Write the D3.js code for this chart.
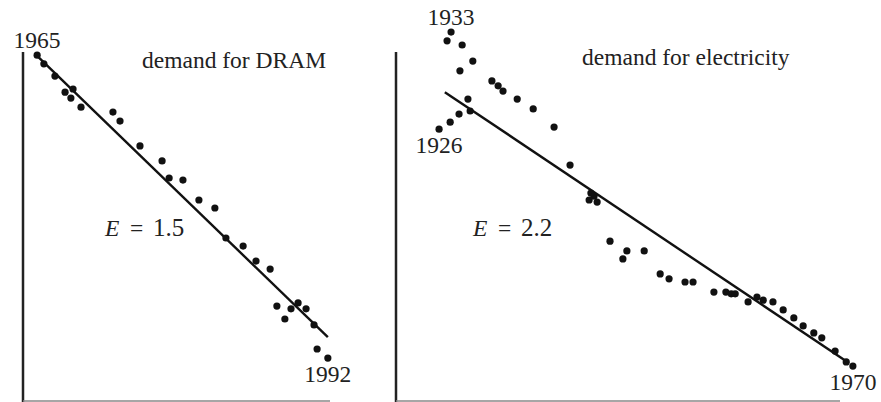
<!DOCTYPE html>
<html>
<head>
<meta charset="utf-8">
<script src="https://cdn.jsdelivr.net/npm/d3@7"></script>
<style>
  body { margin: 0; background: #fff; }
</style>
</head>
<body>
<div id="chart"></div>
<script>

// log quantity (x) and log price (y), both in relative units 0..100
const dramX = [4.6, 6.8, 10.4, 13.7, 16.3, 15.6, 18.9, 29.3, 31.6, 38.1, 45.3, 47.6, 52.1, 57.3,
    62.5, 66.1, 71.7, 75.9, 80.5, 82.7, 85.3, 87.3, 89.6, 92.2, 94.8, 95.8, 99.3];
const dramY = [99.1, 96.6, 93.1, 88.5, 89.4, 86.8, 84.2, 82.8, 80.2, 73.1, 68.8, 63.9, 63.3, 57.6,
    55.3, 46.7, 44.4, 40.1, 37.8, 27.2, 23.5, 26.4, 28.1, 26.4, 21.8, 14.9, 12.3];
const dramFitX = [4.6, 99.3];
const dramFitY = [98.9, 18.3];
const dramYears = ["1965", "1992"];
const dramTitle = "demand for DRAM";
const dramE = "1.5";

const elecX = [9.7, 12.2, 14.2, 16.7, 16.2, 17.3, 14.4, 12.4, 11.5, 14.9, 21.6, 23.0, 24.1, 27.3, 30.9,
    35.6, 39.2, 43.9, 44.6, 43.5, 45.3, 48.2, 51.1, 52.0, 55.9, 59.5, 61.5, 65.1, 66.9, 71.6,
    74.3, 75.5, 76.4, 79.3, 81.3, 82.7, 84.9, 87.2, 89.6, 91.7, 94.1, 95.9, 98.9, 101.4, 102.9];
const elecY = [77.9, 79.9, 82.2, 83.1, 86.5, 97.4, 94.6, 105.7, 103.2, 102.0, 91.7, 90.3, 88.8, 86.5, 83.7,
    78.5, 67.6, 59.6, 58.7, 57.6, 57.0, 45.8, 40.7, 43.0, 43.0, 36.4, 35.0, 34.1, 34.1, 31.2,
    31.2, 30.7, 30.7, 28.4, 29.8, 28.9, 28.4, 26.1, 23.8, 21.5, 19.5, 18.1, 14.3, 11.2, 10.0];
const elecFitX = [11.0, 102.0];
const elecFitY = [88.5, 10.9];
const elecYears = ["1926", "1933", "1970"];
const elecLabelIdx = [0, 7, 44];
const elecTitle = "demand for electricity";
const elecE = "2.2";

const width = 881, height = 402;
const serif = "'Liberation Serif', 'DejaVu Serif', serif";

const svg = d3.select("#chart").append("svg")
    .attr("width", width)
    .attr("height", height)
    .attr("font-family", serif);

function drawPanel(opts) {

    let x = d3.scaleLinear().domain([0, 100]).range(opts.xRange);
    let y = d3.scaleLinear().domain([0, 100]).range([401, 52]);

    let g = svg.append("g");

    // frame: vertical line and a faint baseline
    g.append("line")
        .attr("x1", x(0)).attr("x2", x(0))
        .attr("y1", y(100)).attr("y2", height)
        .attr("stroke", "#222")
        .attr("stroke-width", 2.5);
    g.append("line")
        .attr("x1", x(0)).attr("x2", x(100))
        .attr("y1", y(0)).attr("y2", y(0))
        .attr("stroke", "#888")
        .attr("stroke-width", 1.5);

    // fitted line
    g.append("line")
        .attr("x1", x(opts.fitX[0])).attr("y1", y(opts.fitY[0]))
        .attr("x2", x(opts.fitX[1])).attr("y2", y(opts.fitY[1]))
        .attr("stroke", "#111")
        .attr("stroke-width", 2.4);

    // points
    g.selectAll("circle")
        .data(opts.xs)
        .enter()
        .append("circle")
        .attr("cx", d => x(d))
        .attr("cy", (d, i) => y(opts.ys[i]))
        .attr("r", 3.6)
        .attr("fill", "#111");

    // year labels, centred above or below their point
    opts.labels.forEach((lab, k) => {
        let i = opts.labelIdx[k];
        let above = opts.labelAbove[k];
        g.append("text")
            .attr("x", x(opts.xs[i]))
            .attr("y", y(opts.ys[i]) + (above ? -7 : 24))
            .attr("text-anchor", "middle")
            .attr("fill", "#222")
            .style("font-size", "23.5px")
            .text(lab);
    });

    g.append("text")
        .attr("x", opts.titlePos[0])
        .attr("y", opts.titlePos[1])
        .attr("fill", "#222")
        .style("font-size", "23.5px")
        .text(opts.title);

    // elasticity
    let e = g.append("text")
        .attr("y", 236)
        .attr("fill", "#222")
        .style("font-size", "23.5px");
    e.append("tspan").attr("x", opts.ePos).style("font-style", "italic").text("E");
    e.append("tspan").attr("x", opts.ePos + 25).text("=");
    e.append("tspan").attr("x", opts.ePos + 48).style("font-size", "25px").text(opts.e);
}

drawPanel({
    xRange: [23, 330],
    xs: dramX, ys: dramY,
    fitX: dramFitX, fitY: dramFitY,
    labels: dramYears, labelIdx: [0, dramX.length - 1], labelAbove: [true, false],
    title: dramTitle, titlePos: [142, 68],
    e: dramE, ePos: 105
});

drawPanel({
    xRange: [396, 840],
    xs: elecX, ys: elecY,
    fitX: elecFitX, fitY: elecFitY,
    labels: elecYears, labelIdx: elecLabelIdx, labelAbove: [false, true, false],
    title: elecTitle, titlePos: [582, 65],
    e: elecE, ePos: 473
});

</script>
</body>
</html>
